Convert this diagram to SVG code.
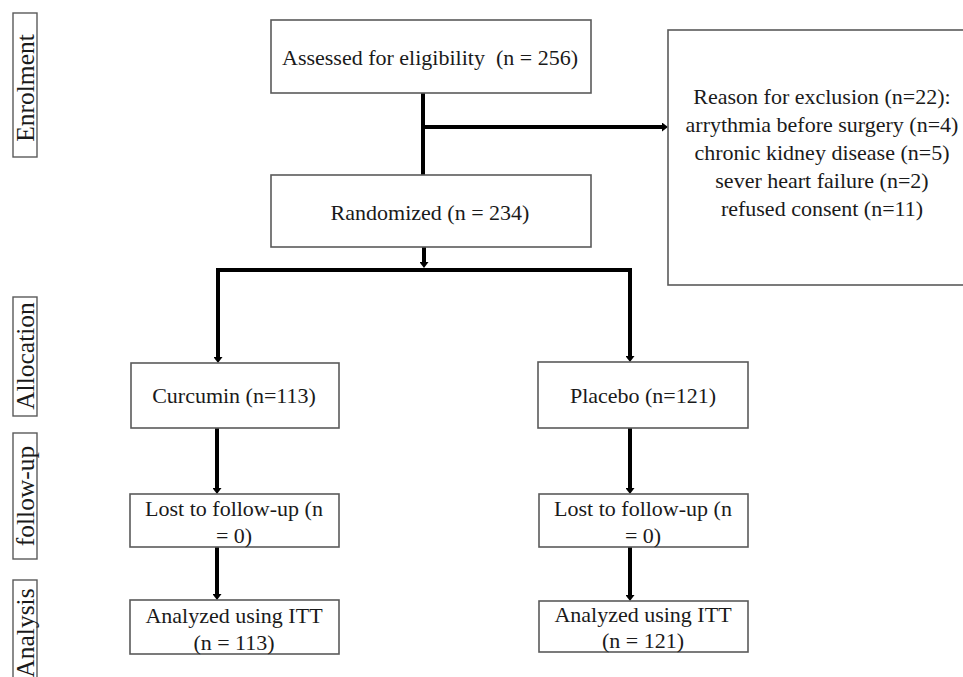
<svg xmlns="http://www.w3.org/2000/svg" width="963" height="677" viewBox="0 0 963 677">
<style>
.box{fill:#fff;stroke:#5a5a5a;stroke-width:1.6}
.lbl{fill:#fff;stroke:#5a5a5a;stroke-width:1.4}
.t{font-family:"Liberation Serif","Times New Roman","DejaVu Serif",serif;font-size:22px;fill:#1a1a1a;text-anchor:middle}
.s{font-family:"Liberation Serif","Times New Roman","DejaVu Serif",serif;font-size:25.5px;fill:#1a1a1a;text-anchor:middle}
.c{fill:none;stroke:#000;stroke-width:4;stroke-linecap:butt;stroke-linejoin:miter}
</style>
<defs>
<marker id="ah" viewBox="0 0 6 9" refX="1" refY="4.5" markerWidth="6" markerHeight="9" markerUnits="userSpaceOnUse" orient="auto">
<path d="M0,0 L6,4.5 L0,9 z" fill="#000"/>
</marker>
</defs>
<rect width="963" height="677" fill="#fff"/>

<g id="stage-enrolment">
<rect class="lbl" x="13" y="13" width="24" height="144"/>
<text class="s" transform="translate(33.5,88) rotate(-90)">Enrolment</text>
</g>
<g id="stage-allocation">
<rect class="lbl" x="13" y="297" width="24" height="119"/>
<text class="s" transform="translate(33.5,356) rotate(-90)">Allocation</text>
</g>
<g id="stage-followup">
<rect class="lbl" x="13" y="433" width="24" height="126"/>
<text class="s" transform="translate(33.5,496) rotate(-90)">follow-up</text>
</g>
<g id="stage-analysis">
<rect class="lbl" x="13" y="580" width="24" height="110"/>
<text class="s" transform="translate(33.5,633) rotate(-90)">Analysis</text>
</g>

<g id="connectors">
<path class="c" d="M423,93 V175"/>
<path class="c" d="M423,127 H663" marker-end="url(#ah)"/>
<path class="c" d="M424,247 V263" marker-end="url(#ah)"/>
<path class="c" d="M218,358 V270 H630 V357"/>
<path d="M218,270 V358" fill="none" stroke="none" marker-end="url(#ah)"/>
<path d="M630,270 V357" fill="none" stroke="none" marker-end="url(#ah)"/>
<path class="c" d="M217,428 V489" marker-end="url(#ah)"/>
<path class="c" d="M217,547 V595" marker-end="url(#ah)"/>
<path class="c" d="M630,428 V489" marker-end="url(#ah)"/>
<path class="c" d="M630,547 V596" marker-end="url(#ah)"/>
</g>

<g id="assessed">
<rect class="box" x="271" y="20" width="320" height="73"/>
<text class="t" x="430" y="65" xml:space="preserve">Assessed for eligibility  (n = 256)</text>
</g>
<g id="excluded">
<rect class="box" x="668" y="30" width="310" height="255"/>
<text class="t" x="822" y="104">Reason for exclusion (n=22):</text>
<text class="t" x="822" y="132">arrythmia before surgery (n=4)</text>
<text class="t" x="822" y="160">chronic kidney disease (n=5)</text>
<text class="t" x="822" y="188">sever heart failure (n=2)</text>
<text class="t" x="822" y="216">refused consent (n=11)</text>
</g>
<g id="randomized">
<rect class="box" x="271" y="175" width="320" height="72"/>
<text class="t" x="430" y="220">Randomized (n = 234)</text>
</g>
<g id="curcumin">
<rect class="box" x="131" y="363" width="208" height="65"/>
<text class="t" x="234" y="403">Curcumin (n=113)</text>
</g>
<g id="placebo">
<rect class="box" x="538" y="362" width="210" height="66"/>
<text class="t" x="643" y="403">Placebo (n=121)</text>
</g>
<g id="lost-curcumin">
<rect class="box" x="130" y="494" width="209" height="53"/>
<text class="t" x="234" y="516">Lost to follow-up (n</text>
<text class="t" x="234" y="543">= 0)</text>
</g>
<g id="lost-placebo">
<rect class="box" x="539" y="494" width="209" height="53"/>
<text class="t" x="643" y="516">Lost to follow-up (n</text>
<text class="t" x="643" y="543">= 0)</text>
</g>
<g id="analyzed-curcumin">
<rect class="box" x="130" y="600" width="209" height="54"/>
<text class="t" x="234" y="623">Analyzed using ITT</text>
<text class="t" x="234" y="650">(n = 113)</text>
</g>
<g id="analyzed-placebo">
<rect class="box" x="539" y="601" width="209" height="51"/>
<text class="t" x="643" y="622">Analyzed using ITT</text>
<text class="t" x="643" y="648">(n = 121)</text>
</g>
</svg>
